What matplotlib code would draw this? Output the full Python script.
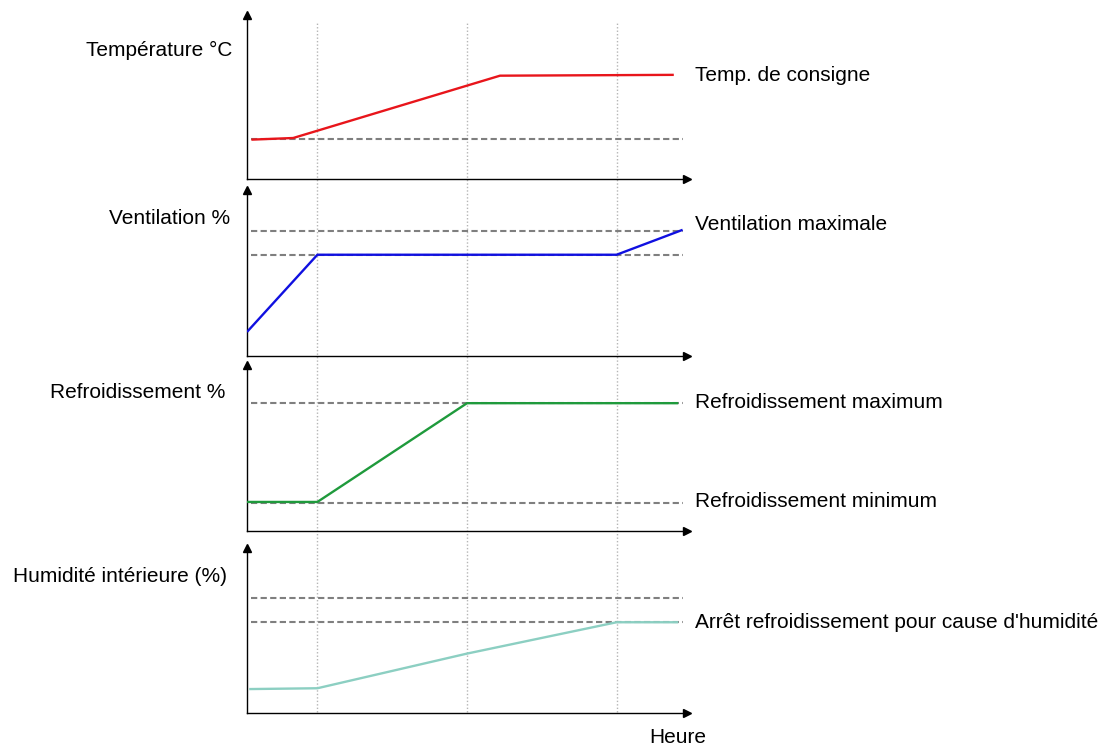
import matplotlib
matplotlib.use("Agg")
import matplotlib.pyplot as plt
from matplotlib import transforms

plt.rcParams['font.family'] = ['Liberation Sans', 'DejaVu Sans']

# ---- data (x in hours-like units, y in arbitrary 0-10 units) ----
phase_times = [1.6, 5.0, 8.4]

temp_x = [0.1, 1.05, 5.75, 9.7]
temp_y = [2.4, 2.5, 6.3, 6.35]
temp_ref = [2.45]

vent_x = [0.0, 1.6, 8.4, 9.9]
vent_y = [1.45, 6.1, 6.1, 7.6]
vent_ref = [7.55, 6.1]

cool_x = [0.0, 1.6, 5.0, 9.8]
cool_y = [1.75, 1.75, 7.7, 7.7]
cool_ref = [7.7, 1.7]

hum_x = [0.05, 1.6, 5.0, 8.4, 9.8]
hum_y = [1.45, 1.5, 3.6, 5.5, 5.5]
hum_ref = [7.0, 5.5]

left_labels = ["Température °C", "Ventilation %", "Refroidissement %", "Humidité intérieure (%)"]
right_labels = [
    ["Temp. de consigne"],
    ["Ventilation maximale"],
    ["Refroidissement maximum", "Refroidissement minimum"],
    ["Arrêt refroidissement pour cause d'humidité"],
]
xlabel = "Heure"

series = [
    (temp_x, temp_y, temp_ref, "#e8151b"),
    (vent_x, vent_y, vent_ref, "#1010e0"),
    (cool_x, cool_y, cool_ref, "#1f9a3c"),
    (hum_x, hum_y, hum_ref, "#8ccfc2"),
]

W, H = 1106, 746
fig = plt.figure(figsize=(W / 100, H / 100), dpi=100)

# layout (pixels)
panels = [(15, 179), (190, 356), (365, 531), (548, 713)]
x0, x1 = 247, 687
left_pos = [(232, 50), (230, 219), (225, 393), (227, 577)]
right_label_y = [[6.3], [7.9], [7.75, 1.75], [5.5]]
FS = 15

axes = []
for i, ((top, bot), (sx, sy, refs, col)) in enumerate(zip(panels, series)):
    ax = fig.add_axes([x0 / W, 1 - bot / H, (x1 - x0) / W, (bot - top) / H])
    ax.set_xlim(0, 10)
    ax.set_ylim(0, 10)
    ax.set_facecolor('none')
    for s in ['top', 'right']:
        ax.spines[s].set_visible(False)
    for s in ['left', 'bottom']:
        ax.spines[s].set_linewidth(1.0)
        ax.spines[s].set_color('black')
    ax.set_xticks([])
    ax.set_yticks([])
    ax.plot(1, 0, ">k", transform=ax.transAxes, clip_on=False, markersize=6)
    ax.plot(0, 1, "^k", transform=ax.transAxes, clip_on=False, markersize=6)
    for r in refs:
        ax.plot([0.1, 9.9], [r, r], color='#7f7f7f', lw=1.5, ls=(0, (3, 1.6)), zorder=2)
    ax.plot(sx, sy, color=col, lw=1.7, zorder=3, solid_capstyle='butt')
    lx, ly = left_pos[i]
    ax.text((lx - x0) / (x1 - x0), 1 - (ly - top) / (bot - top),
            left_labels[i], transform=ax.transAxes, ha='right', va='center', fontsize=FS)
    for txt, yv in zip(right_labels[i], right_label_y[i]):
        ax.text(10.18, yv, txt, ha='left', va='center', fontsize=FS, clip_on=False)
    axes.append(ax)

# vertical dotted phase lines spanning all panels
tr = transforms.blended_transform_factory(axes[-1].transData, fig.transFigure)
for t in phase_times:
    fig.add_artist(plt.Line2D([t, t], [1 - 712 / H, 1 - 22 / H], transform=tr,
                              color='#b5b5b5', lw=1.0, ls=(0, (1, 1.5)), zorder=0))

axes[-1].text(9.8, -1.5, xlabel, ha='center', va='center', fontsize=FS, clip_on=False)

fig.savefig("out.png", dpi=100)
